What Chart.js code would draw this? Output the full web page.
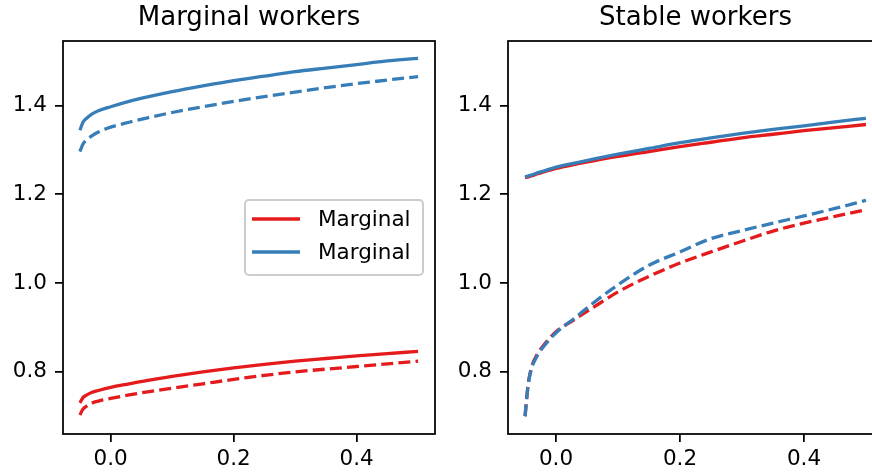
<!DOCTYPE html>
<html lang="en">
<head>
  <meta charset="UTF-8" />
  <title>Marginal and stable workers</title>
  <script src="https://cdn.jsdelivr.net/npm/chart.js"></script>
  <style>
    html, body { margin: 0; padding: 0; background: white; }
    #wrap { position: relative; width: 872px; height: 476px; overflow: hidden; }
    canvas { position: absolute; top: 0; }
    #left { left: 0; }
    #right { left: 440px; }
  </style>
</head>
<body>
<div id="wrap">
  <canvas id="left" width="440" height="476"></canvas>
  <canvas id="right" width="448" height="476"></canvas>
</div>

<script>
// shared x grid for every curve
const xValues = [-0.05, -0.045, -0.04, -0.03, -0.02, 0.0, 0.03, 0.06, 0.1, 0.15, 0.2, 0.25, 0.3, 0.35, 0.4, 0.45, 0.5];

// left panel: marginal workers
const marginalRedSolid   = [0.730, 0.742, 0.747, 0.754, 0.758, 0.765, 0.773, 0.781, 0.790, 0.800, 0.809, 0.817, 0.824, 0.830, 0.836, 0.841, 0.846];
const marginalRedDashed  = [0.703, 0.716, 0.722, 0.730, 0.734, 0.740, 0.748, 0.755, 0.763, 0.773, 0.783, 0.792, 0.800, 0.806, 0.812, 0.818, 0.824];
const marginalBlueSolid  = [1.344, 1.362, 1.370, 1.381, 1.388, 1.397, 1.409, 1.419, 1.431, 1.444, 1.456, 1.466, 1.476, 1.484, 1.492, 1.500, 1.506];
const marginalBlueDashed = [1.296, 1.313, 1.321, 1.332, 1.340, 1.351, 1.362, 1.372, 1.384, 1.397, 1.409, 1.420, 1.430, 1.440, 1.449, 1.457, 1.465];

// right panel: stable workers
const stableRedSolid   = [1.237, 1.239, 1.241, 1.246, 1.250, 1.258, 1.267, 1.275, 1.285, 1.296, 1.307, 1.317, 1.327, 1.335, 1.343, 1.350, 1.357];
const stableRedDashed  = [0.700, 0.772, 0.808, 0.840, 0.860, 0.890, 0.918, 0.945, 0.980, 1.015, 1.045, 1.070, 1.094, 1.117, 1.135, 1.150, 1.165];
const stableBlueSolid  = [1.239, 1.241, 1.243, 1.248, 1.252, 1.261, 1.270, 1.279, 1.290, 1.303, 1.316, 1.327, 1.337, 1.346, 1.354, 1.363, 1.371];
const stableBlueDashed = [0.700, 0.770, 0.805, 0.837, 0.857, 0.888, 0.921, 0.955, 0.996, 1.040, 1.070, 1.100, 1.118, 1.135, 1.151, 1.168, 1.186];

const xTicks = [0.0, 0.2, 0.4];
const yTicks = [0.8, 1.0, 1.2, 1.4];
const panelTitles = ['Marginal workers', 'Stable workers'];
const legendLabels = ['Marginal', 'Marginal'];

const RED = '#e41a1c', BLUE = '#377eb8';
const FONT = '"DejaVu Sans", sans-serif';
const LW = 3.3;

function toPoints(vals) {
  return xValues.map((x, i) => ({ x: x, y: vals[i] }));
}

// order: higher number is drawn first (underneath)
function line(label, vals, color, dashed, inLegend, order) {
  return {
    label: label,
    data: toPoints(vals),
    borderColor: color,
    borderWidth: LW,
    borderDash: dashed ? [12, 5.2] : [],
    pointRadius: 0,
    fill: false,
    cubicInterpolationMode: 'monotone',
    inLegend: inLegend,
    order: order
  };
}

// frame, title and legend drawn the matplotlib way
const decor = {
  id: 'decor',
  afterDraw(chart, args, opts) {
    const ctx = chart.ctx, ca = chart.chartArea;
    ctx.save();
    ctx.strokeStyle = 'black';
    ctx.lineWidth = 1.75;
    ctx.strokeRect(ca.left, ca.top, ca.right - ca.left, ca.bottom - ca.top);

    ctx.fillStyle = 'black';
    ctx.font = '26px ' + FONT;
    ctx.textAlign = 'center';
    ctx.textBaseline = 'middle';
    ctx.fillText(opts.title, (ca.left + ca.right) / 2, 18);

    if (opts.legend) {
      const bx = ca.left + 182, by = ca.top + 159, bw = 178, bh = 75;
      ctx.beginPath();
      ctx.roundRect(bx, by, bw, bh, 4);
      ctx.fillStyle = 'rgba(255,255,255,0.8)';
      ctx.fill();
      ctx.strokeStyle = '#cccccc';
      ctx.lineWidth = 2;
      ctx.stroke();
      const items = chart.data.datasets.filter(d => d.inLegend);
      items.forEach((d, i) => {
        const y = by + 19 + i * 33;
        ctx.beginPath();
        ctx.strokeStyle = d.borderColor;
        ctx.lineWidth = LW;
        ctx.moveTo(bx + 7, y);
        ctx.lineTo(bx + 55, y);
        ctx.stroke();
        ctx.fillStyle = 'black';
        ctx.font = '21.5px ' + FONT;
        ctx.textAlign = 'left';
        ctx.textBaseline = 'middle';
        ctx.fillText(d.label, bx + 73, y + 1);
      });
    }
    ctx.restore();
  }
};

function makePanel(id, title, datasets, yWidth, showLegend) {
  return new Chart(document.getElementById(id), {
    type: 'line',
    data: { datasets: datasets },
    plugins: [decor],
    options: {
      responsive: false,
      animation: false,
      devicePixelRatio: 1,
      layout: { padding: { top: 41, right: 5, left: 0, bottom: 0 } },
      plugins: {
        legend: { display: false },
        tooltip: { enabled: false },
        title: { display: false },
        decor: { title: title, legend: showLegend }
      },
      scales: {
        x: {
          type: 'linear',
          min: -0.0775,
          max: 0.5275,
          afterBuildTicks: s => { s.ticks = xTicks.map(v => ({ value: v })); },
          afterFit: s => { s.height = 42; },
          border: { display: false },
          grid: { drawOnChartArea: false, drawTicks: true, tickLength: 8, color: 'black', lineWidth: 1.75 },
          ticks: { color: 'black', padding: 5, font: { family: FONT, size: 21.5 }, maxRotation: 0, callback: v => v.toFixed(1) }
        },
        y: {
          min: 0.66,
          max: 1.545,
          afterBuildTicks: s => { s.ticks = yTicks.map(v => ({ value: v })); },
          afterFit: s => { s.width = yWidth; },
          border: { display: false },
          grid: { drawOnChartArea: false, drawTicks: true, tickLength: 8, color: 'black', lineWidth: 1.75 },
          ticks: { color: 'black', padding: 8, font: { family: FONT, size: 21.5 }, callback: v => v.toFixed(1) }
        }
      }
    }
  });
}

makePanel('left', panelTitles[0], [
  line(legendLabels[0], marginalRedSolid, RED, false, true, 4),
  line(legendLabels[1], marginalBlueSolid, BLUE, false, true, 3),
  line('Marginal (dashed)', marginalRedDashed, RED, true, false, 2),
  line('Marginal (dashed)', marginalBlueDashed, BLUE, true, false, 1)
], 63, true);

makePanel('right', panelTitles[1], [
  line('Stable', stableRedSolid, RED, false, false, 4),
  line('Stable', stableBlueSolid, BLUE, false, false, 3),
  line('Stable (dashed)', stableRedDashed, RED, true, false, 2),
  line('Stable (dashed)', stableBlueDashed, BLUE, true, false, 1)
], 68, false);
</script>
</body>
</html>
